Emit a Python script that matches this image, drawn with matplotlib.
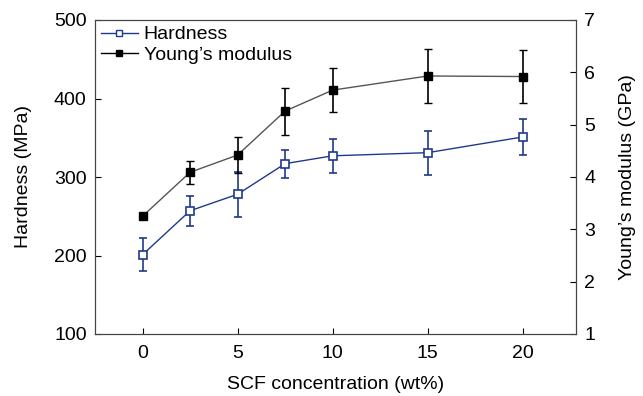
import matplotlib
matplotlib.use('Agg')
import matplotlib.pyplot as plt
from matplotlib.lines import Line2D

plt.rcParams['font.family'] = ['Liberation Sans', 'DejaVu Sans']
plt.rcParams['font.size'] = 14

x = [0, 2.5, 5, 7.5, 10, 15, 20]
hardness = [201, 257, 278, 317, 327, 331, 351]
hardness_err = [21, 19, 29, 18, 22, 28, 23]
young = [3.25, 4.09, 4.42, 5.26, 5.66, 5.93, 5.92]
young_err = [0.05, 0.22, 0.35, 0.45, 0.42, 0.52, 0.5]

blue = '#1f3a8a'

fig = plt.figure(figsize=(6.43, 3.96), dpi=100)
ax = fig.add_axes([95/643, 1-334/396, (576-95)/643, (334-20)/396])
ax2 = ax.twinx()

ax.errorbar(x, hardness, yerr=hardness_err, color=blue, marker='s', ms=5.5,
            mfc='white', mec=blue, mew=1.2, lw=1, capsize=3, elinewidth=1.2)
ax2.errorbar(x, young, yerr=young_err, color='#555555', marker='s', ms=5.5,
             mfc='black', mec='black', lw=1, capsize=3, ecolor='black',
             elinewidth=1.2)

ax.set_xlim(-2.5, 22.8)
ax.set_ylim(100, 500)
ax2.set_ylim(1, 7)
ax.set_xticks([0, 5, 10, 15, 20])
ax.set_yticks([100, 200, 300, 400, 500])
ax2.set_yticks([1, 2, 3, 4, 5, 6, 7])

ax.tick_params(axis='x', direction='in', length=4, top=False, labelsize=14, pad=8)
ax.tick_params(axis='y', direction='in', length=4, labelsize=14, pad=6)
ax2.tick_params(direction='in', length=4, labelsize=14, pad=6)
for a in (ax, ax2):
    for s in a.spines.values():
        s.set_color('#444444')

ax.set_xlabel('SCF concentration (wt%)', fontsize=14, labelpad=10)
ax.set_ylabel('Hardness (MPa)', fontsize=14, labelpad=16)
ax2.set_ylabel('Young\u2019s modulus (GPa)', fontsize=14, labelpad=17)

handles = [
    Line2D([], [], color=blue, marker='s', ms=5, mfc='white', mec=blue, lw=1),
    Line2D([], [], color='black', marker='s', ms=5, mfc='black', mec='black', lw=1),
]
ax.legend(handles, ['Hardness', "Young\u2019s modulus"], loc='upper left',
          frameon=False, fontsize=14, handlelength=1.9, borderaxespad=0.1,
          borderpad=0.2, labelspacing=0.15, handletextpad=0.3)

fig.savefig('out.png', dpi=100)
